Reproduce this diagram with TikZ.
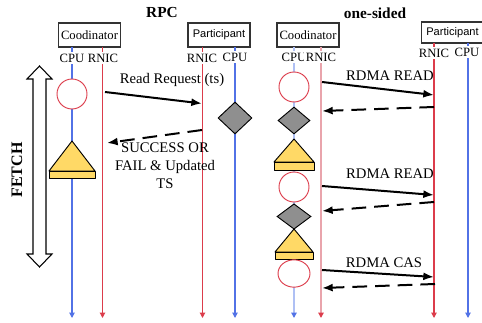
\documentclass[tikz,border=0pt]{standalone}
\usepackage{fontspec}
\setmainfont{Liberation Serif}
\newfontfamily\boxsans{Liberation Sans}
\usetikzlibrary{arrows.meta,shapes.geometric}
\definecolor{cpublue}{HTML}{5272E6}
\definecolor{rnicred}{HTML}{DC3C4B}
\definecolor{cpupale}{HTML}{AFC0F4}
\definecolor{rnicpale}{HTML}{E9A4AC}
\definecolor{idxyellow}{HTML}{FFD966}
\definecolor{lockgray}{HTML}{8F8F8F}

\begin{document}
\begin{tikzpicture}[x=0.75pt,y=-0.75pt]
		\tikzset{hd/.style={font=\bfseries\fontsize{11.5}{13}\selectfont},
			bx/.style={draw=black!80, line width=0.8pt, inner sep=0pt, font=\fontsize{9.5}{11}\selectfont},
			pbx/.style={bx, font=\boxsans\fontsize{8.3}{10}\selectfont},
			lbl/.style={fill=white, inner sep=1.2pt, font=\fontsize{9.5}{11}\selectfont},
			msg/.style={font=\fontsize{11}{13.5}\selectfont, align=center, inner sep=0pt},
			cpu/.style={cpublue, line width=0.8pt, -{Triangle[width=4pt,length=4pt]}},
			rnic/.style={rnicred, line width=0.8pt, -{Triangle[width=4pt,length=4pt]}},
			cpupl/.style={cpupale, line width=1pt, -{Triangle[width=4pt,length=4pt,color=cpublue]}},
			rnicpl/.style={rnicpale, line width=1.1pt, -{Triangle[width=4pt,length=4pt,color=rnicred]}},
			rd/.style={circle, draw=rnicred, fill=white, line width=0.7pt, minimum size=22.5pt, inner sep=0pt},
			lk/.style={diamond, draw=black, fill=lockgray, line width=0.7pt, inner sep=0pt},
			tri/.style={draw=black, fill=idxyellow, line width=0.7pt, line join=round},
			req/.style={line width=1.5pt, -{Latex[length=8pt,width=6pt]}},
			rsp/.style={req, dash pattern=on 11pt off 6pt}};

		\useasboundingbox (0,0) rectangle (482,323);
		\clip (0,0) rectangle (482,323);

		\node[hd] (rpc) at (162,13) {RPC};
		\node[hd] (os) at (375,13) {one-sided};

		\node[bx, minimum width=47pt, minimum height=18pt] (cl) at (89.5,35) {Coodinator};
		\node[pbx, minimum width=46.5pt, minimum height=18pt] (pl) at (219,35) {Participant};
		\node[bx, minimum width=46.5pt, minimum height=18pt] (cr) at (308,35) {Coodinator};
		\node[pbx, minimum width=46.5pt, minimum height=15.75pt] (pr) at (452.5,32.5) {Participant};

		% lifelines
		\coordinate (cpuA) at (72,47);
		\coordinate (cpuAe) at (72,318);
		\coordinate (rnicA) at (102.5,47);
		\coordinate (rnicAe) at (102.5,318);
		\coordinate (rnicB) at (202.5,47);
		\coordinate (rnicBe) at (202.5,318);
		\coordinate (cpuB) at (235,47);
		\coordinate (cpuBe) at (235,318);
		\coordinate (cpuC) at (294,47);
		\coordinate (cpuCe) at (294,318);
		\coordinate (rnicC) at (321,47);
		\coordinate (rnicCe) at (321,318);
		\coordinate (rnicD) at (434,43);
		\coordinate (rnicDe) at (434,318);
		\coordinate (cpuD) at (468,43);
		\coordinate (cpuDe) at (468,318);

		\draw[cpu] (cpuA) to (cpuAe);
		\draw[rnic] (rnicA) to (rnicAe);
		\draw[rnic] (rnicB) to (rnicBe);
		\draw[cpu] (cpuB) to (cpuBe);
		\draw[cpupl] (cpuC) to (cpuCe);
		\draw[rnicpl] (rnicC) to (rnicCe);
		\draw[rnic] (rnicD) to (rnicDe);
		\draw[cpu] (cpuD) to (cpuDe);

		\node[lbl] (cpuAl) at (72,58) {CPU};
		\node[lbl] (rnicAl) at (103,58) {RNIC};
		\node[lbl] (rnicBl) at (202,58) {RNIC};
		\node[lbl] (cpuBl) at (235,57) {CPU};
		\node[lbl] (cpuCl) at (294,57) {CPU};
		\node[lbl] (rnicCl) at (321,57) {RNIC};
		\node[lbl] (rnicDl) at (434,53) {RNIC};
		\node[lbl] (cpuDl) at (467,52) {CPU};

		% FETCH
		\draw[fill=white, line width=0.8pt, line join=miter]
			(39.5,66) -- (52,79) -- (46,79) -- (46,254) -- (52,254) -- (39.5,267)
			-- (27,254) -- (33,254) -- (33,79) -- (27,79) -- cycle;
		\node[font=\bfseries\fontsize{12}{14}\selectfont, rotate=90] (fetch) at (17,170) {FETCH};

		% RPC side
		\node[rd] (c0) at (72,94) {};
		\draw[tri] (72,141) -- (95,171) -- (49,171) -- cycle;
		\draw[tri] (49,171) rectangle (95,178);
		\node[lk, minimum width=25.5pt, minimum height=24pt] (d0) at (235,118) {};

		% one-sided side
		\node[rd] (c1) at (294,87) {};
		\node[lk, minimum width=24pt, minimum height=20.25pt] (d1) at (294,120.5) {};
		\draw[tri] (294,139) -- (314,162) -- (274,162) -- cycle;
		\draw[tri] (274,162) rectangle (314,170);
		\node[rd] (c2) at (294,187) {};
		\node[lk, minimum width=25.5pt, minimum height=19pt] (d2) at (294,216.5) {};
		\draw[tri] (294,229) -- (313,252) -- (275,252) -- cycle;
		\draw[tri] (275,252) rectangle (313,259);
		\node[rd, ellipse, minimum width=24pt, minimum height=20.5pt] (c3) at (294,273.5) {};

		% messages
		\coordinate (m1a) at (105,92);
		\coordinate (m1b) at (202,103.5);
		\coordinate (m2a) at (202,130);
		\coordinate (m2b) at (107,143);
		\coordinate (m3a) at (322,82);
		\coordinate (m3b) at (434,95);
		\coordinate (m4a) at (434,107);
		\coordinate (m4b) at (322,111);
		\coordinate (m5a) at (322,186);
		\coordinate (m5b) at (434,195);
		\coordinate (m6a) at (434,202);
		\coordinate (m6b) at (322,211);
		\coordinate (m7a) at (322,270);
		\coordinate (m7b) at (434,277);
		\coordinate (m8a) at (435,284);
		\coordinate (m8b) at (322,288);

		\draw[req] (m1a) to (m1b);
		\draw[rsp] (m2a) to (m2b);
		\draw[req] (m3a) to (m3b);
		\draw[rsp] (m4a) to (m4b);
		\draw[req] (m5a) to (m5b);
		\draw[rsp] (m6a) to (m6b);
		\draw[req] (m7a) to (m7b);
		\draw[rsp] (m8a) to (m8b);

		\node[msg] (rq) at (172,80) {Read Request (ts)};
		\node[msg] (ok) at (165,166) {SUCCESS OR\\FAIL \& Updated\\TS};
		\node[msg] (rd1) at (390,76) {RDMA READ};
		\node[msg] (rd2) at (390,174) {RDMA READ};
		\node[msg] (cas) at (384,263) {RDMA CAS};

	\end{tikzpicture}
\end{document}
